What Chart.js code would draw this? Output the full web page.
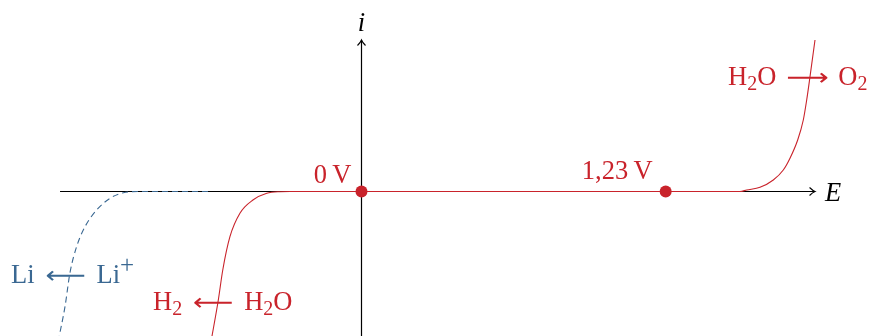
<!DOCTYPE html>
<html>
<head>
<meta charset="utf-8">
<script src="https://cdn.jsdelivr.net/npm/chart.js@4/dist/chart.umd.min.js"></script>
<style>
  html, body { margin: 0; padding: 0; background: #ffffff; }
  #wrap { width: 870px; height: 336px; }
  canvas { display: block; }
</style>
</head>
<body>
<div id="wrap"><canvas id="c" width="870" height="336"></canvas></div>
<script>
// Current–potential curve of water electrolysis, with the lithium deposition wave.
// Potential E in volts, current i in arbitrary units.

// Water: reduction branch (H2 <- H2O), plateau, oxidation branch (H2O -> O2)
const waterE = [-0.616, -0.6045, -0.579, -0.561, -0.532, -0.491, -0.439, -0.383, -0.330, -0.289,
                1.5305, 1.5576, 1.6114, 1.6652, 1.7056, 1.7327, 1.7638, 1.7865, 1.8002, 1.8136, 1.8338];
const waterI = [-3.2, -2.89, -2.17, -1.57, -0.904, -0.43, -0.17, -0.036, -0.004, 0,
                0, 0.03, 0.084, 0.23, 0.43, 0.666, 1.03, 1.43, 1.83, 2.296, 3.03];

// Lithium: Li <- Li+
const lithiumE = [-1.234, -1.222, -1.199, -1.179, -1.152, -1.118, -1.071, -1.017, -0.963, -0.896, -0.613];
const lithiumI = [-3.2, -2.89, -2.304, -1.63, -1.104, -0.704, -0.37, -0.136, -0.024, 0, 0];

// Standard potentials marked on the axis
const potentialsV = [0, 1.23];
const potentialLabels = ['0\u2009V', '1,23\u2009V'];

// Axis extents (data units)
const axisE = [-1.219, 1.834];
const axisI = [-3.2, 3.03];

const RED = '#c9232b';
const BLUE = '#3a6892';
const SERIF = '"Liberation Serif", "DejaVu Serif", serif';
const BASE = 26.5;
const SCRIPT = 20;

const toPts = (xs, ys) => xs.map((x, k) => ({ x: x, y: ys[k] }));

function arrowHead(ctx, x, y, dir) {
  // curved "to"-style tip; dir: 'right' or 'up'
  ctx.save();
  ctx.translate(x, y);
  if (dir === 'up') ctx.rotate(-Math.PI / 2);
  ctx.beginPath();
  ctx.moveTo(-5.5, -4);
  ctx.quadraticCurveTo(-2.2, -0.8, 0, 0);
  ctx.quadraticCurveTo(-2.2, 0.8, -5.5, 4);
  ctx.lineWidth = 1.1;
  ctx.strokeStyle = '#000';
  ctx.stroke();
  ctx.restore();
}

function drawArrowGlyph(ctx, ch, x, cy, w, color) {
  ctx.save();
  ctx.font = '26px "DejaVu Sans"';
  const m = ctx.measureText(ch);
  const gw = m.actualBoundingBoxLeft + m.actualBoundingBoxRight;
  const gh = m.actualBoundingBoxAscent + m.actualBoundingBoxDescent;
  const mid = (m.actualBoundingBoxAscent - m.actualBoundingBoxDescent) / 2;
  const sy = Math.min(1, 11 / gh);
  ctx.translate(x, cy);
  ctx.scale(w / gw, sy);
  ctx.textAlign = 'left';
  ctx.textBaseline = 'alphabetic';
  ctx.fillStyle = color;
  ctx.fillText(ch, m.actualBoundingBoxLeft, mid);
  ctx.restore();
}

function drawRich(ctx, x, baseline, parts, color) {
  let cx = x;
  ctx.fillStyle = color;
  ctx.textAlign = 'left';
  ctx.textBaseline = 'alphabetic';
  for (const p of parts) {
    if (p.gap) { cx += p.gap; continue; }
    if (p.arrow) {
      drawArrowGlyph(ctx, p.arrow, cx, baseline - 7, p.w, color);
      cx += p.w;
      continue;
    }
    const size = p.size || ((p.sub || p.sup) ? SCRIPT : BASE);
    ctx.font = size + 'px ' + SERIF;
    const dy = p.sub ? 5 : (p.sup ? -10 : 0);
    ctx.fillStyle = color;
    ctx.fillText(p.t, cx, baseline + dy);
    cx += ctx.measureText(p.t).width;
  }
}

const annotations = {
  id: 'annotations',
  afterDatasetsDraw(chart) {
    const ctx = chart.ctx;
    const xs = chart.scales.x, ys = chart.scales.y;
    ctx.save();

    // axis arrow tips
    arrowHead(ctx, xs.getPixelForValue(axisE[1]), ys.getPixelForValue(0), 'right');
    arrowHead(ctx, xs.getPixelForValue(0), ys.getPixelForValue(axisI[1]), 'up');

    // axis names
    ctx.fillStyle = '#000';
    ctx.font = 'italic ' + BASE + 'px ' + SERIF;
    ctx.textAlign = 'center';
    ctx.textBaseline = 'alphabetic';
    ctx.fillText('i', xs.getPixelForValue(0), 31);
    ctx.textAlign = 'left';
    ctx.fillText('E', 825, 201);

    // potential labels, above-left of each marker
    const offsets = [{ dx: -10, dy: -8.5 }, { dx: -13, dy: -13 }];
    ctx.fillStyle = RED;
    ctx.font = BASE + 'px ' + SERIF;
    ctx.textAlign = 'right';
    potentialsV.forEach((v, k) => {
      const px = xs.getPixelForValue(v), py = ys.getPixelForValue(0);
      ctx.fillText(potentialLabels[k], px + offsets[k].dx, py + offsets[k].dy);
    });

    // half-reaction labels
    drawRich(ctx, 728, 85, [
      { t: 'H' }, { t: '2', sub: true }, { t: 'O' }, { gap: 11 },
      { arrow: '\u27F6', w: 40 }, { gap: 11 }, { t: 'O' }, { t: '2', sub: true }
    ], RED);
    drawRich(ctx, 153, 310, [
      { t: 'H' }, { t: '2', sub: true }, { gap: 12 },
      { arrow: '\u27F5', w: 38 }, { gap: 12 }, { t: 'H' }, { t: '2', sub: true }, { t: 'O' }
    ], RED);
    drawRich(ctx, 11, 283, [
      { t: 'Li' }, { gap: 12 },
      { arrow: '\u27F5', w: 38 }, { gap: 12 }, { t: 'Li' }, { t: '+', sup: true, size: 25 }
    ], BLUE);

    ctx.restore();
  }
};

new Chart(document.getElementById('c'), {
  type: 'scatter',
  data: {
    datasets: [
      {
        label: 'potentials',
        data: potentialsV.map(v => ({ x: v, y: 0 })),
        showLine: false,
        pointRadius: 6,
        pointBackgroundColor: RED,
        pointBorderWidth: 0,
        order: 0
      },
      {
        label: 'water',
        data: toPts(waterE, waterI),
        showLine: true,
        borderColor: RED,
        borderWidth: 1.1,
        pointRadius: 0,
        cubicInterpolationMode: 'monotone',
        order: 1
      },
      {
        label: 'lithium',
        data: toPts(lithiumE, lithiumI),
        showLine: true,
        borderColor: BLUE,
        borderWidth: 1.1,
        borderDash: [6, 4],
        pointRadius: 0,
        cubicInterpolationMode: 'monotone',
        order: 2
      },
      {
        label: 'E axis',
        data: [{ x: axisE[0], y: 0 }, { x: axisE[1], y: 0 }],
        showLine: true,
        borderColor: '#000',
        borderWidth: 1.2,
        pointRadius: 0,
        order: 3
      },
      {
        label: 'i axis',
        data: [{ x: 0, y: axisI[0] }, { x: 0, y: axisI[1] }],
        showLine: true,
        borderColor: '#000',
        borderWidth: 1.2,
        pointRadius: 0,
        order: 3
      }
    ]
  },
  options: {
    responsive: false,
    maintainAspectRatio: false,
    devicePixelRatio: 1,
    animation: false,
    layout: { padding: 0, autoPadding: false },
    plugins: { legend: { display: false }, tooltip: { enabled: false } },
    scales: {
      x: { type: 'linear', min: -361.5 / 247.3, max: 508.5 / 247.3, display: false },
      y: { type: 'linear', min: -2.89, max: 3.83, display: false }
    }
  },
  plugins: [annotations]
});
</script>
</body>
</html>
